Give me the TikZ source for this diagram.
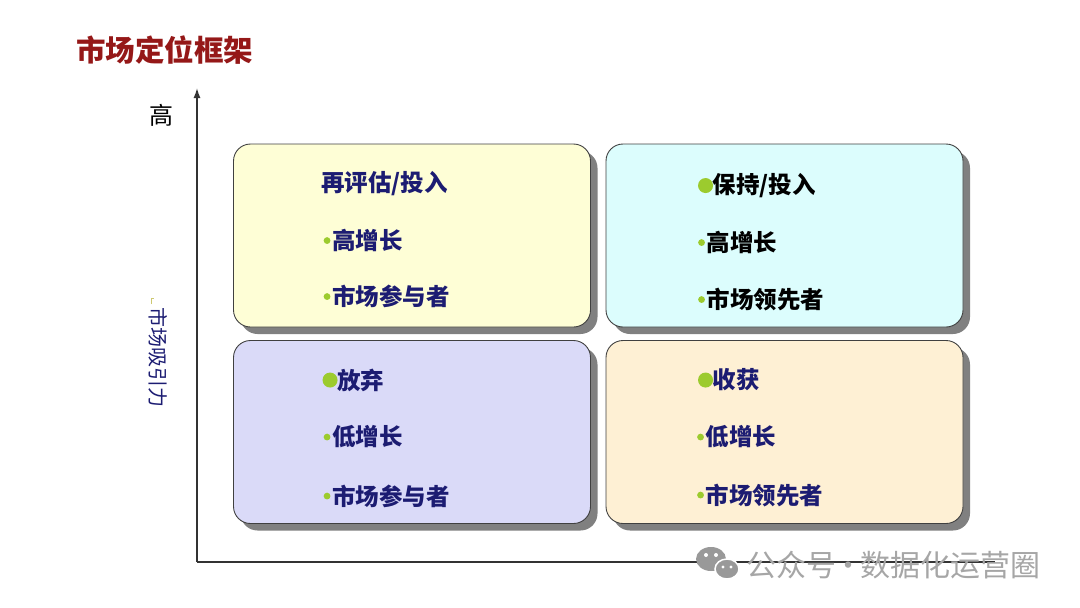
\documentclass[tikz,border=0pt]{standalone}
\usepackage{fontspec}
\setmainfont{Noto Sans CJK SC}
\usepackage{xcolor}
\usepackage{tikz}
\usetikzlibrary{arrows.meta}
\usetikzlibrary{shadows}
\definecolor{titlered}{HTML}{951818}
\definecolor{navytext}{HTML}{1C1C72}
\definecolor{bulgreen}{HTML}{9CCB2E}
\definecolor{fillyellow}{HTML}{FEFED6}
\definecolor{fillcyan}{HTML}{DCFDFD}
\definecolor{filllav}{HTML}{DADAF8}
\definecolor{fillpeach}{HTML}{FEF0D4}
\tikzset{quad/.style={draw=black!75, line width=0.9pt, rounded corners=17pt, inner sep=0pt,
    minimum width=357pt, minimum height=183pt,
    drop shadow={shadow xshift=7pt, shadow yshift=-7pt, fill=black!50, opacity=1}}}
\tikzset{item/.style={anchor=west, inner sep=0pt, font=\fontsize{23.5}{26}\selectfont\bfseries, text=navytext}}
\tikzset{bul/.style={fill=bulgreen}}

\begin{document}
\begin{tikzpicture}[x=1pt, y=-1pt]
    \useasboundingbox (0,0) rectangle (1080,608);

    \node[anchor=west, inner sep=0pt, text=titlered, font=\fontsize{29.5}{31}\selectfont\bfseries] at (76,50) (title){市场定位框架};

    % axes
    \coordinate (o) at (197,562);
    \coordinate (ytop) at (197,88);
    \coordinate (xend) at (995,562);
    \draw [black!80, line width=1.4pt, -{Latex[length=10pt,width=7pt]}] (o) -- (ytop);
    \draw [black!80, line width=1.4pt] (o) -- (xend);
    \node at (161,115) (high){\fontsize{24}{26}\selectfont 高};
    \node[rotate=-90, text=navytext, font=\fontsize{20}{22}\selectfont] at (158,357) (attr){市场吸引力};
    \draw [olive!45, line width=1pt] (151,304) -- (151,298) -- (154,298);

    % quadrants
    \node[quad, fill=fillyellow] at (412,235.5) (tl){};
    \node[quad, fill=fillcyan] at (784.5,235.5) (tr){};
    \node[quad, fill=filllav] at (412,432) (bl){};
    \node[quad, fill=fillpeach] at (784.5,432) (br){};

    \node[item] at ([xshift=88pt, yshift=-40pt]tl.north west) (tl1){再评估/投入};
    \node[item] at ([xshift=99pt, yshift=-97pt]tl.north west) (tl2){高增长};
    \node[item] at ([xshift=99pt, yshift=-153pt]tl.north west) (tl3){市场参与者};
    \fill[bul] ([xshift=-5pt]tl2.west) circle (3.4pt);
    \fill[bul] ([xshift=-5pt]tl3.west) circle (3.4pt);

    \node[item, text=black] at ([xshift=107pt, yshift=-42pt]tr.north west) (tr1){保持/投入};
    \node[item, text=black] at ([xshift=101pt, yshift=-99pt]tr.north west) (tr2){高增长};
    \node[item, text=black] at ([xshift=101pt, yshift=-156pt]tr.north west) (tr3){市场领先者};
    \fill[bul] ([xshift=-7pt]tr1.west) circle (7.5pt);
    \fill[bul] ([xshift=-5pt]tr2.west) circle (3.4pt);
    \fill[bul] ([xshift=-5pt]tr3.west) circle (3.4pt);

    \node[item] at ([xshift=104pt, yshift=-40pt]bl.north west) (bl1){放弃};
    \node[item] at ([xshift=99pt, yshift=-97pt]bl.north west) (bl2){低增长};
    \node[item] at ([xshift=99pt, yshift=-156pt]bl.north west) (bl3){市场参与者};
    \fill[bul] ([xshift=-7pt]bl1.west) circle (7.5pt);
    \fill[bul] ([xshift=-5pt]bl2.west) circle (3.4pt);
    \fill[bul] ([xshift=-5pt]bl3.west) circle (3.4pt);

    \node[item] at ([xshift=107pt, yshift=-40pt]br.north west) (br1){收获};
    \node[item] at ([xshift=100pt, yshift=-97pt]br.north west) (br2){低增长};
    \node[item] at ([xshift=100pt, yshift=-155pt]br.north west) (br3){市场领先者};
    \fill[bul] ([xshift=-7pt]br1.west) circle (7.5pt);
    \fill[bul] ([xshift=-5pt]br2.west) circle (3.4pt);
    \fill[bul] ([xshift=-5pt]br3.west) circle (3.4pt);

    % watermark
    \fill[black!40] (711,559) ellipse (15pt and 12pt);
    \fill[black!40, draw=white, line width=1.5pt] (727,569) ellipse (12pt and 10pt);
    \fill[white] (706,555) circle (2pt) (716,555) circle (2pt) (723,567) circle (1.6pt) (731,567) circle (1.6pt);
    \node[anchor=west, inner sep=0pt, text=black!35, font=\fontsize{30}{32}\selectfont] at (746,565) (mark){公众号\hspace{-3pt}·\hspace{-3pt}数据化运营圈};
\end{tikzpicture}
\end{document}
